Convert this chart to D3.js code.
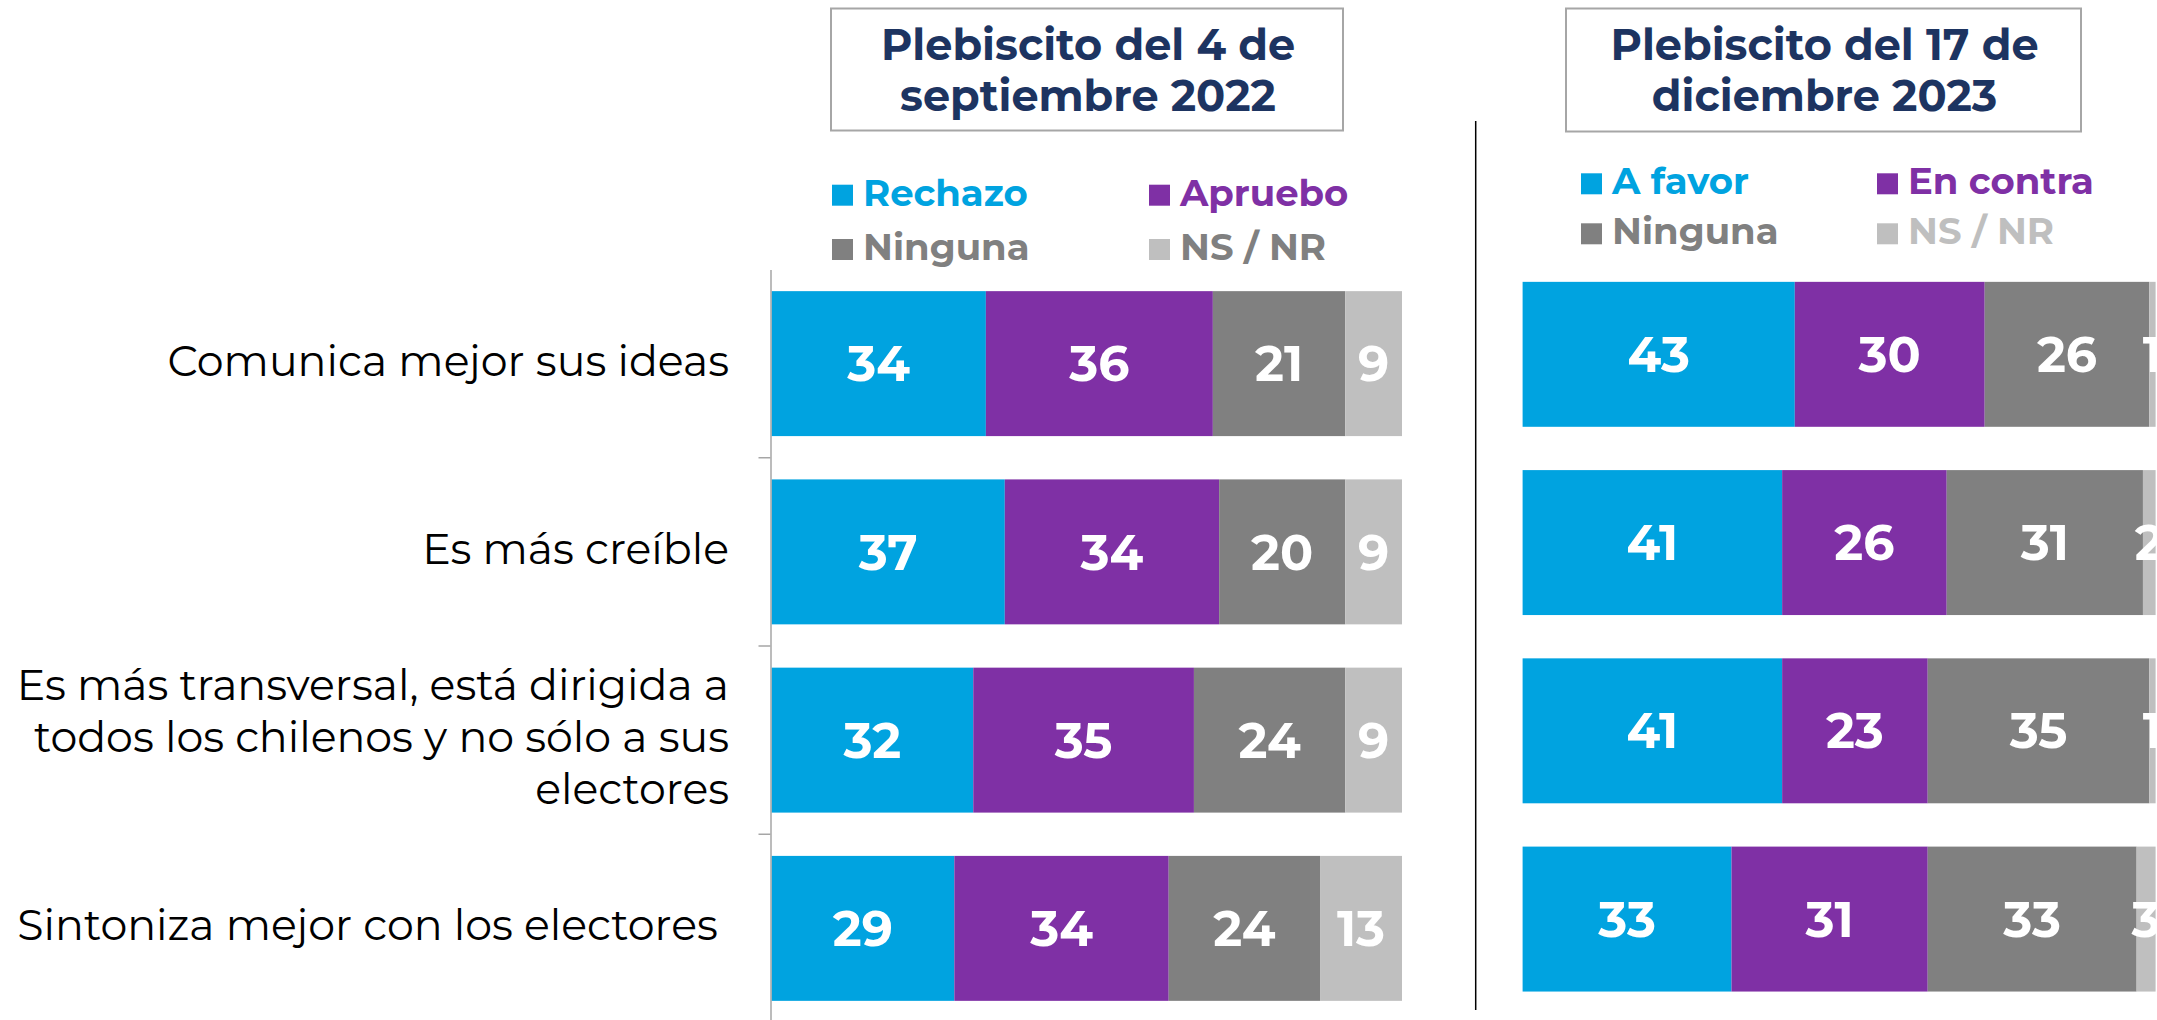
<!DOCTYPE html>
<html><head><meta charset="utf-8">
<script src="https://cdn.jsdelivr.net/npm/d3@7"></script>
<style>html,body{margin:0;padding:0;background:#fff;overflow:hidden}</style>
</head><body>
<svg id="chart" width="2157" height="1020"></svg>
<script>
// ---------- DATA ----------
const categories = [
  "Comunica mejor sus ideas",
  "Es más creíble",
  "Es más transversal, está dirigida a todos los chilenos y no sólo a sus electores",
  "Sintoniza mejor con los electores"
];
const categoryLines = [
  ["Comunica mejor sus ideas"],
  ["Es más creíble"],
  ["Es más transversal, está dirigida a", "todos los chilenos y no sólo a sus", "electores"],
  ["Sintoniza mejor con los electores "]
];
const title2022 = ["Plebiscito del 4 de", "septiembre 2022"];
const title2023 = ["Plebiscito del 17 de", "diciembre 2023"];
const series2022 = ["Rechazo", "Apruebo", "Ninguna", "NS / NR"];
const series2023 = ["A favor", "En contra", "Ninguna", "NS / NR"];

const rechazo2022 = [34, 37, 32, 29];
const apruebo2022 = [36, 34, 35, 34];
const ninguna2022 = [21, 20, 24, 24];
const nsnr2022    = [9, 9, 9, 13];

const aFavor2023   = [43, 41, 41, 33];
const enContra2023 = [30, 26, 23, 31];
const ninguna2023  = [26, 31, 35, 33];
const nsnr2023     = [1, 2, 1, 3];

// ---------- STYLE ----------
const segColors = ["#00A3E0", "#7F30A5", "#808080", "#BFBFBF"];
const legendText2022 = ["#00A3E0", "#7F30A5", "#808080", "#808080"];
const legendText2023 = ["#00A3E0", "#7F30A5", "#808080", "#BFBFBF"];
const FONT = "Montserrat, Inter, 'Noto Sans', sans-serif";
const navy = "#1D3461";

const svg = d3.select("#chart");

function buildRows(cols) {
  return categories.map((c, i) => {
    const r = {category: c};
    cols.forEach((col, k) => r["s" + k] = col[i]);
    return r;
  });
}

function drawPanel(opts) {
  const {rows, x, y, names, legendColors, title, box, legend, axis} = opts;
  const keys = ["s0", "s1", "s2", "s3"];
  const stacked = d3.stack().keys(keys)(rows);
  const g = svg.append("g");

  stacked.forEach((layer, k) => {
    const lg = g.append("g");
    lg.selectAll("rect").data(layer).join("rect")
      .attr("x", d => x(d[0]))
      .attr("y", d => y(d.data.category))
      .attr("width", d => x(d[1]) - x(d[0]))
      .attr("height", y.bandwidth())
      .attr("fill", segColors[k]);
    lg.selectAll("text").data(layer).join("text")
      .attr("x", d => (x(d[0]) + x(d[1])) / 2)
      .attr("y", d => y(d.data.category) + y.bandwidth() / 2)
      .attr("dy", "0.36em")
      .attr("text-anchor", "middle")
      .attr("fill", "#fff")
      .attr("font-family", FONT)
      .attr("font-weight", 700)
      .attr("font-size", 49)
      .text(d => d[1] - d[0]);
  });

  if (axis) {
    const ax = g.append("g").attr("transform", `translate(${x(0) - 1},0)`)
      .call(d3.axisLeft(y).tickValues([]).tickSizeOuter(0));
    ax.select(".domain").attr("stroke", "#A6A6A6").attr("stroke-width", 1.5);
    const bounds = categories.slice(1).map(c => y(c) - y.step() * y.paddingInner() / 2);
    ax.selectAll(".tk").data(bounds).join("line")
      .attr("x1", -12).attr("x2", 0)
      .attr("y1", d => d).attr("y2", d => d)
      .attr("stroke", "#A6A6A6").attr("stroke-width", 1.5);
  }

  // title box
  g.append("rect").attr("x", box[0]).attr("y", box[1])
    .attr("width", box[2]).attr("height", box[3])
    .attr("fill", "#fff").attr("stroke", "#A6A6A6").attr("stroke-width", 2);
  const tt = g.append("text").attr("text-anchor", "middle")
    .attr("font-family", FONT).attr("font-weight", 700)
    .attr("font-size", 43).attr("fill", navy);
  title.forEach((t, i) => tt.append("tspan")
    .attr("x", box[0] + box[2] / 2 + 1).attr("y", box[1] + 51 + i * 51).text(t));

  // legend
  names.forEach((n, k) => {
    const col = k % 2, row = Math.floor(k / 2);
    const lx = legend.x[col], ly = legend.y[row];
    g.append("rect").attr("x", lx).attr("y", ly - 21)
      .attr("width", 21).attr("height", 21).attr("fill", segColors[k]);
    g.append("text").attr("x", lx + 31).attr("y", ly)
      .attr("font-family", FONT).attr("font-weight", 700)
      .attr("font-size", 37).attr("fill", legendColors[k]).text(n);
  });
}

// ---------- LEFT PANEL ----------
const xL = d3.scaleLinear().domain([0, 100]).range([771.5, 1402]);
const yL = d3.scaleBand().domain(categories).range([269.5, 1022.5])
  .paddingInner(0.23).paddingOuter(0.115);
drawPanel({
  rows: buildRows([rechazo2022, apruebo2022, ninguna2022, nsnr2022]),
  x: xL, y: yL, names: series2022, legendColors: legendText2022,
  title: title2022, box: [831, 8.5, 512, 122],
  legend: {x: [832, 1149], y: [205.7, 260]}, axis: true
});

// ---------- RIGHT PANEL ----------
const xR = d3.scaleLinear().domain([0, 100]).range([1522.6, 2155.6]);
const yR = d3.scaleBand().domain(categories).range([260.2, 1013.2])
  .paddingInner(0.23).paddingOuter(0.115);
drawPanel({
  rows: buildRows([aFavor2023, enContra2023, ninguna2023, nsnr2023]),
  x: xR, y: yR, names: series2023, legendColors: legendText2023,
  title: title2023, box: [1566, 8.5, 515, 123],
  legend: {x: [1581, 1877], y: [194.3, 244.3]}, axis: false
});

// category labels
const labG = svg.append("g");
categoryLines.forEach((lines, i) => {
  const cy = yL(categories[i]) + yL.bandwidth() / 2;
  const t = labG.append("text").attr("text-anchor", "end")
    .attr("font-family", FONT).attr("font-size", 42.7).attr("fill", "#000")
    .style("white-space", "pre");
  const n = lines.length;
  lines.forEach((ln, j) => t.append("tspan")
    .attr("x", xL(0) - 42.5)
    .attr("y", cy + 12 + (j - (n - 1) / 2) * 52)
    .text(ln));
});

// separator
svg.append("line").attr("x1", 1475.7).attr("x2", 1475.7)
  .attr("y1", 121).attr("y2", 1010).attr("stroke", "#000").attr("stroke-width", 1.5);
</script>
</body></html>
